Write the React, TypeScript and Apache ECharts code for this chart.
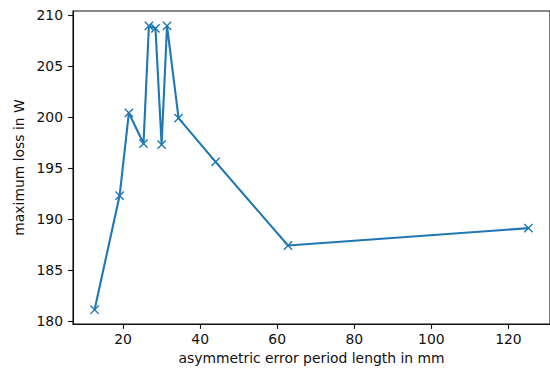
import React, { useEffect, useRef } from "react";
import * as echarts from "echarts";

const periodLength = [12.6, 19.1, 21.5, 25.3, 26.7, 28.4, 30.0, 31.4, 34.4, 44.0, 62.8, 125.2];
const maxLoss = [181.1, 192.3, 200.4, 197.4, 208.95, 208.7, 197.3, 208.95, 199.9, 195.6, 187.4, 189.1];
const xTicks = [20, 40, 60, 80, 100, 120];
const yTicks = [180, 185, 190, 195, 200, 205, 210];

export default function App() {
  const ref = useRef<HTMLDivElement>(null);
  useEffect(() => {
    const chart = echarts.init(ref.current!, null, { renderer: "svg" });
    const font = "DejaVu Sans";
    const fs = 13.9;
    chart.setOption({
      animation: false,
      textStyle: { fontFamily: font },
      grid: {
        left: 73,
        top: 11,
        width: 482,
        height: 313,
        show: true,
        borderColor: "#111",
        borderWidth: 1.1,
        backgroundColor: "transparent",
      },
      xAxis: {
        type: "value",
        min: 7.0,
        max: 130.8,
        name: "asymmetric error period length in mm",
        nameLocation: "middle",
        nameGap: 27,
        nameTextStyle: { fontSize: fs, color: "#111", fontFamily: font },
        splitLine: { show: false },
        axisLine: { show: true, lineStyle: { color: "#111", width: 1.1 } },
        axisTick: { show: true, length: 4.9, customValues: xTicks, lineStyle: { color: "#111", width: 1.1 } },
        axisLabel: { customValues: xTicks, fontSize: fs, color: "#111", fontFamily: font, margin: 8 },
      },
      yAxis: {
        type: "value",
        min: 179.7,
        max: 210.4,
        name: "maximum loss in W",
        nameLocation: "middle",
        nameGap: 44,
        nameRotate: 90,
        nameTextStyle: { fontSize: fs, color: "#111", fontFamily: font },
        splitLine: { show: false },
        axisLine: { show: true, lineStyle: { color: "#111", width: 1.1 } },
        axisTick: { show: true, length: 4.9, customValues: yTicks, lineStyle: { color: "#111", width: 1.1 } },
        axisLabel: { customValues: yTicks, fontSize: fs, color: "#111", fontFamily: font, margin: 10 },
      },
      series: [
        {
          type: "line",
          data: periodLength.map((x, i) => [x, maxLoss[i]]),
          lineStyle: { color: "#1f77b4", width: 2.1 },
          symbol: "path://M0,0L10,10M10,0L0,10",
          symbolSize: 8.3,
          itemStyle: { color: "none", borderColor: "#1f77b4", borderWidth: 1.4 },
          clip: false,
        },
      ],
    });
    return () => chart.dispose();
  }, []);
  return <div ref={ref} style={{ width: 550, height: 371, position: "absolute", left: 0, top: 0 }} />;
}
